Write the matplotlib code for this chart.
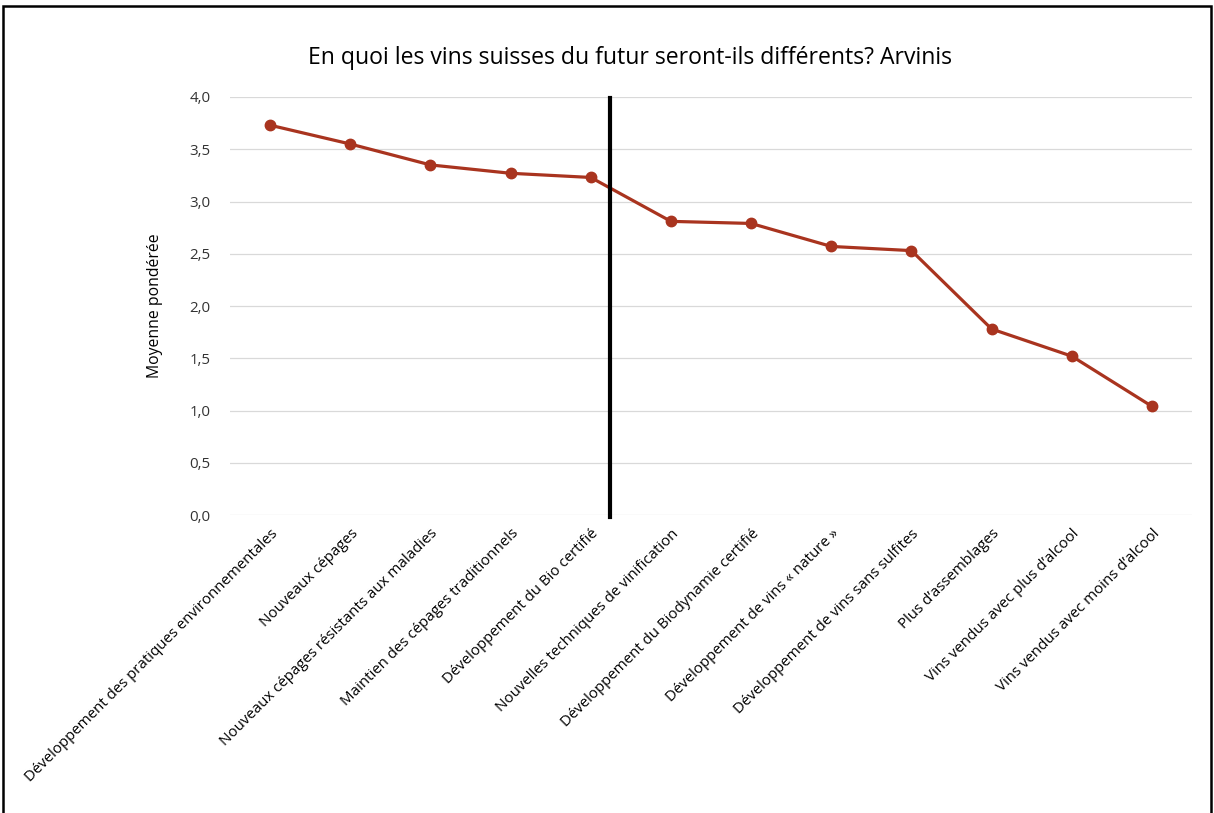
import numpy as np
import matplotlib.pyplot as plt
from matplotlib.patches import Rectangle
from matplotlib.ticker import FuncFormatter

plt.rcParams['font.family'] = ['Open Sans', 'DejaVu Sans']

categories = [
    "Développement des pratiques environnementales",
    "Nouveaux cépages",
    "Nouveaux cépages résistants aux maladies",
    "Maintien des cépages traditionnels",
    "Développement du Bio certifié",
    "Nouvelles techniques de vinification",
    "Développement du Biodynamie certifié",
    "Développement de vins « nature »",
    "Développement de vins sans sulfites",
    "Plus d’assemblages",
    "Vins vendus avec plus d’alcool",
    "Vins vendus avec moins d’alcool",
]
values = [3.73, 3.55, 3.35, 3.27, 3.23, 2.81, 2.79, 2.57, 2.53, 1.78, 1.52, 1.04]
separator_x = 4.24

fig = plt.figure(figsize=(12.14, 8.13), dpi=100)
ax = fig.add_axes([0.1895, 0.3665, 0.7924, 0.5142])

x = np.arange(len(categories))
ax.plot(x, values, '-o', color='#A9341F', lw=2.3, ms=7.5, zorder=3)
ax.plot([separator_x, separator_x], [-0.02, 3.99], color='black', lw=3, zorder=4,
        clip_on=False)

ax.set_xlim(-0.5, len(categories) - 0.5)
ax.set_ylim(0, 4.0)
ax.set_yticks(np.arange(0, 4.01, 0.5))
ax.yaxis.set_major_formatter(FuncFormatter(lambda v, p: f"{v:.1f}".replace('.', ',')))
ax.grid(axis='y', color='#d9d9d9', lw=0.9)
ax.set_axisbelow(True)
for s in ax.spines.values():
    s.set_visible(False)
ax.tick_params(length=0, labelsize=10.8, colors='#333333', pad=14)
ax.tick_params(axis='x', pad=8)

ax.set_xticks(x)
ax.set_xticklabels(categories, rotation=45, ha='right', rotation_mode='anchor',
                   color='black')

ax.set_ylabel("Moyenne pondérée", fontsize=11.3, labelpad=19)
fig.text(0.519, 0.929, "En quoi les vins suisses du futur seront-ils différents? Arvinis",
         ha='center', va='center', fontsize=16.6, color='black')

fig.patches.append(Rectangle((3 / 1214, -0.01), 1208 / 1214, 1 - 6 / 813 + 0.01,
                             transform=fig.transFigure, fill=False,
                             edgecolor='black', lw=1.8))

fig.savefig('out.png', dpi=100, facecolor='white')
